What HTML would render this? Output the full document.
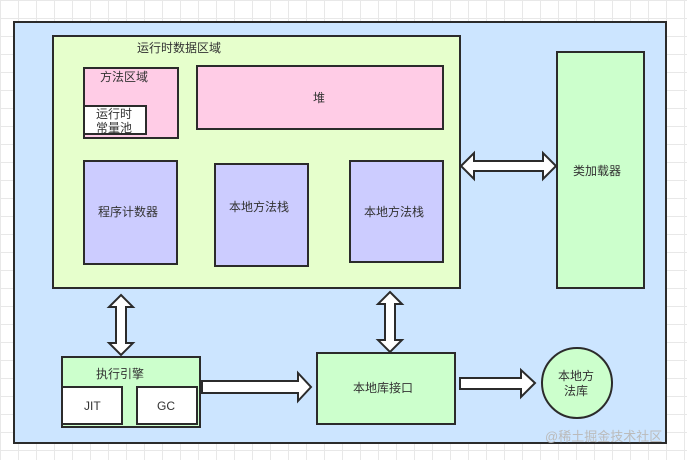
<!DOCTYPE html>
<html><head><meta charset="utf-8"><style>
body{margin:0;width:687px;height:460px;overflow:hidden;font-family:"Liberation Sans","Noto Sans CJK SC",sans-serif;
background-color:#fff;background-image:linear-gradient(#e8e8e8 1px,transparent 1px),linear-gradient(90deg,#e8e8e8 1px,transparent 1px);background-size:18px 18px;}
</style></head><body>
<svg width="687" height="460" xmlns="http://www.w3.org/2000/svg" style="position:absolute;left:0;top:0" font-family="Liberation Sans, Noto Sans CJK SC, sans-serif" font-size="12" fill="#333">
<g stroke="#2b2b2b" stroke-width="2">
<rect x="14" y="22" width="652" height="421" fill="#cce5ff"/>
<rect x="53" y="36" width="407" height="252" fill="#e6ffcc"/>
<rect x="84" y="68" width="94" height="70" fill="#ffcce6"/>
<rect x="84" y="106" width="62" height="28" fill="#fff"/>
<rect x="197" y="66" width="246" height="63" fill="#ffcce6"/>
<rect x="84" y="161" width="93" height="103" fill="#ccccff"/>
<rect x="215" y="164" width="93" height="102" fill="#ccccff"/>
<rect x="350" y="161" width="93" height="101" fill="#ccccff"/>
<rect x="557" y="52" width="87" height="236" fill="#ccffcc"/>
<rect x="62" y="357" width="138" height="70" fill="#ccffcc"/>
<rect x="62" y="387" width="60" height="37" fill="#fff"/>
<rect x="137" y="387" width="60" height="37" fill="#fff"/>
<rect x="317" y="353" width="138" height="71" fill="#ccffcc"/>
<ellipse cx="577" cy="383" rx="35" ry="35" fill="#ccffcc"/>
<!-- horizontal double arrow -->
<path d="M461 166 L474 153 L474 161 L543 161 L543 153 L556 166 L543 179 L543 171 L474 171 L474 179 Z" fill="#fff"/>
<!-- vertical double arrows -->
<path d="M121 295 L133 307 L126 307 L126 343 L133 343 L121 355 L109 343 L116 343 L116 307 L109 307 Z" fill="#fff"/>
<path d="M390 292 L402 304 L395 304 L395 340 L402 340 L390 352 L378 340 L385 340 L385 304 L378 304 Z" fill="#fff"/>
<!-- right arrows -->
<path d="M202 381 L298 381 L298 373 L311 387 L298 401 L298 393 L202 393 Z" fill="#fff"/>
<path d="M460 378 L521 378 L521 370 L535 383 L521 397 L521 389 L460 389 Z" fill="#fff"/>
</g>
<text x="137" y="52">运行时数据区域</text>
<text x="100" y="81">方法区域</text>
<text x="96" y="118">运行时</text>
<text x="96" y="132">常量池</text>
<text x="313" y="102">堆</text>
<text x="98" y="216">程序计数器</text>
<text x="229" y="211">本地方法栈</text>
<text x="364" y="216">本地方法栈</text>
<text x="573" y="175">类加载器</text>
<text x="96" y="378">执行引擎</text>
<text x="84" y="410">JIT</text>
<text x="157" y="410">GC</text>
<text x="353" y="392">本地库接口</text>
<text x="558" y="380">本地方</text>
<text x="564" y="395">法库</text>
<text x="545" y="441" fill="#bbb" font-size="13">@稀土掘金技术社区</text>
</svg>
</body></html>
